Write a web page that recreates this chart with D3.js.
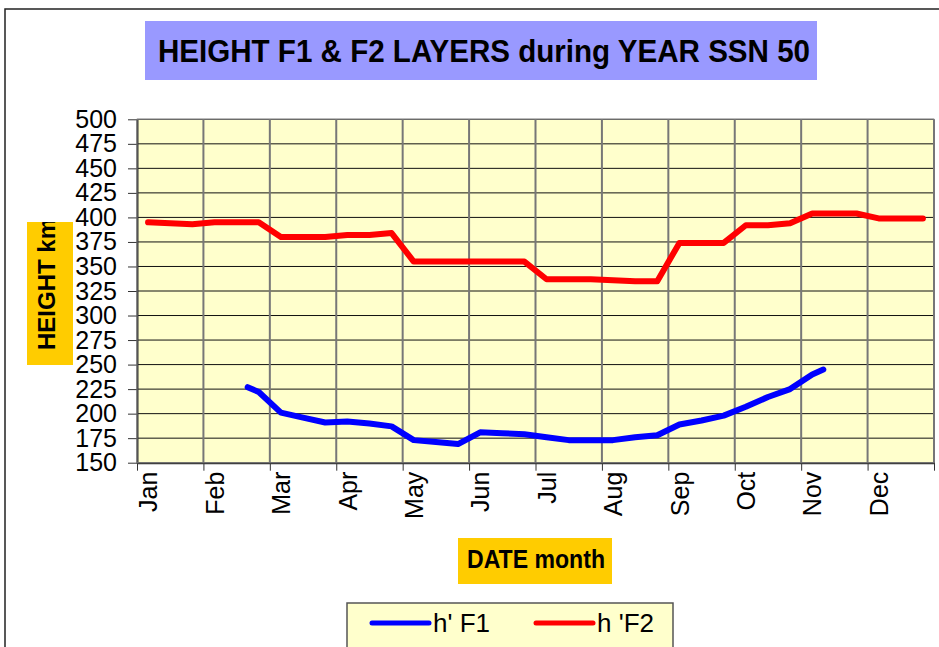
<!DOCTYPE html>
<html>
<head>
<meta charset="utf-8">
<script src="https://cdn.jsdelivr.net/npm/d3@7"></script>
<style>
  body { margin: 0; background: #fff; }
  svg { display: block; font-family: "Liberation Sans", Arial, sans-serif; }
</style>
</head>
<body>
<svg></svg>
<script>
// month labels, one per 3 dekads (10-day periods)
let months = ["Jan", "Feb", "Mar", "Apr", "May", "Jun", "Jul", "Aug", "Sep", "Oct", "Nov", "Dec"];
let yTicks = [150, 175, 200, 225, 250, 275, 300, 325, 350, 375, 400, 425, 450, 475, 500];

// h'F2, one value per dekad (1..36)
let f2Values = [395, 394, 393, 395, 395, 395, 380, 380, 380, 382, 382, 384,
                355, 355, 355, 355, 355, 355, 337, 337, 337, 336, 335, 335,
                374, 374, 374, 392, 392, 394, 404, 404, 404, 399, 399, 399];

// h'F1, dekad positions and values
let f1Dekads = [5.5, 6, 7, 8, 9, 10, 11, 12, 13, 14, 15, 16, 17, 18, 19, 20, 21,
                22, 23, 24, 25, 26, 27, 28, 29, 30, 31, 31.5];
let f1Values = [227, 222, 201, 196, 191, 192, 190, 187, 173, 171, 169, 181, 180, 179,
                176, 173, 173, 173, 176, 178, 189, 193, 198, 207, 217, 225, 240, 245];

let width = 939;
let height = 647;
let plotLeft = 137, plotRight = 934, plotTop = 119.3, plotBottom = 462.7;

let svg = d3.select("svg").attr("width", width).attr("height", height);

let xScale = d3.scaleLinear().domain([0.5, 36.5]).range([plotLeft, plotRight]);
let yScale = d3.scaleLinear().domain([150, 500]).range([plotBottom, plotTop]);

// outer chart border
svg.append("rect")
  .attr("x", 5).attr("y", 9).attr("width", 1000).attr("height", 1000)
  .attr("fill", "#fff").attr("stroke", "#222").attr("stroke-width", 1.5);

// title
svg.append("rect")
  .attr("x", 145).attr("y", 21).attr("width", 672).attr("height", 59)
  .attr("fill", "#9999ff");
svg.append("text")
  .attr("x", 484).attr("y", 62)
  .attr("text-anchor", "middle")
  .attr("font-size", 32).attr("font-weight", "bold")
  .attr("textLength", 652).attr("lengthAdjust", "spacingAndGlyphs")
  .text("HEIGHT F1 & F2 LAYERS during YEAR SSN 50");

// plot area
svg.append("rect")
  .attr("x", plotLeft).attr("y", plotTop)
  .attr("width", plotRight - plotLeft).attr("height", plotBottom - plotTop)
  .attr("fill", "#ffffcc");

// horizontal grid
svg.append("g")
  .selectAll("line")
  .data(yTicks.slice(1))
  .enter()
  .append("line")
  .attr("x1", plotLeft).attr("x2", plotRight)
  .attr("y1", (d) => yScale(d)).attr("y2", (d) => yScale(d))
  .attr("stroke", "#111").attr("stroke-width", 1);

// vertical grid at month boundaries
let monthEdges = d3.range(13).map((i) => 0.5 + i * 3);
svg.append("g")
  .selectAll("line")
  .data(monthEdges.slice(1))
  .enter()
  .append("line")
  .attr("x1", (d) => xScale(d)).attr("x2", (d) => xScale(d))
  .attr("y1", plotTop).attr("y2", plotBottom)
  .attr("stroke", "#777").attr("stroke-width", 2);

// y axis
let yAxis = d3.axisLeft(yScale).tickValues(yTicks).tickSize(9).tickPadding(11).tickSizeOuter(0);
let gy = svg.append("g")
  .attr("transform", "translate(" + plotLeft + ",0)")
  .call(yAxis);
gy.attr("font-family", null);
gy.selectAll("text").attr("font-size", 25).attr("fill", "#000");
gy.selectAll("line").attr("stroke", "#333");
gy.select(".domain").attr("stroke", "#333").attr("stroke-width", 2);

// x axis ticks
let xTickAxis = d3.axisBottom(xScale).tickValues(monthEdges).tickSize(8).tickFormat("").tickSizeOuter(0);
let gx = svg.append("g")
  .attr("transform", "translate(0," + plotBottom + ")")
  .call(xTickAxis);
gx.selectAll("line").attr("stroke", "#333");
gx.select(".domain").attr("stroke", "#333").attr("stroke-width", 2);

// x axis labels at the first dekad of each month
let xLabelAxis = d3.axisBottom(xScale)
  .tickValues(months.map((m, i) => 1 + i * 3))
  .tickFormat((d, i) => months[i])
  .tickSize(0);
let gl = svg.append("g")
  .attr("transform", "translate(0," + plotBottom + ")")
  .call(xLabelAxis);
gl.attr("font-family", null);
gl.select(".domain").remove();
gl.selectAll("text")
  .attr("font-size", 25).attr("fill", "#000")
  .attr("text-anchor", "end")
  .attr("transform", "rotate(-90)")
  .attr("x", -9).attr("y", 0).attr("dy", "0.35em");

// plot border
svg.append("rect")
  .attr("x", plotLeft).attr("y", plotTop)
  .attr("width", plotRight - plotLeft).attr("height", plotBottom - plotTop)
  .attr("fill", "none").attr("stroke", "#777").attr("stroke-width", 1);

// lines
let line = d3.line().x((d) => xScale(d[0])).y((d) => yScale(d[1]));

svg.append("path")
  .datum(f2Values.map((v, i) => [i + 1, v]))
  .attr("d", line)
  .attr("fill", "none").attr("stroke", "#ff0000").attr("stroke-width", 6)
  .attr("stroke-linejoin", "round").attr("stroke-linecap", "round");

svg.append("path")
  .datum(f1Values.map((v, i) => [f1Dekads[i], v]))
  .attr("d", line)
  .attr("fill", "none").attr("stroke", "#0000ff").attr("stroke-width", 6)
  .attr("stroke-linejoin", "round").attr("stroke-linecap", "round");

// y axis title (clipped by its box)
svg.append("clipPath").attr("id", "ytclip")
  .append("rect").attr("x", 27).attr("y", 222).attr("width", 46).attr("height", 143);
svg.append("rect")
  .attr("x", 27).attr("y", 222).attr("width", 46).attr("height", 143)
  .attr("fill", "#ffcc00");
svg.append("g").attr("clip-path", "url(#ytclip)")
  .append("text")
  .attr("transform", "translate(55,350) rotate(-90)")
  .attr("font-size", 24).attr("font-weight", "bold")
  .text("HEIGHT km");

// x axis title
svg.append("rect")
  .attr("x", 458).attr("y", 538).attr("width", 154).attr("height", 46)
  .attr("fill", "#ffcc00");
svg.append("text")
  .attr("x", 536).attr("y", 568)
  .attr("text-anchor", "middle")
  .attr("font-size", 26).attr("font-weight", "bold")
  .attr("textLength", 138).attr("lengthAdjust", "spacingAndGlyphs")
  .text("DATE month");

// legend
let legend = svg.append("g");
legend.append("rect")
  .attr("x", 347).attr("y", 603).attr("width", 326).attr("height", 60)
  .attr("fill", "#ffffcc").attr("stroke", "#555").attr("stroke-width", 1.5);
let items = [
  { name: "h' F1", color: "#0000ff", x: 372 },
  { name: "h 'F2", color: "#ff0000", x: 536 },
];
items.forEach((it) => {
  legend.append("line")
    .attr("x1", it.x).attr("x2", it.x + 57)
    .attr("y1", 623).attr("y2", 623)
    .attr("stroke", it.color).attr("stroke-width", 5).attr("stroke-linecap", "round");
  legend.append("text")
    .attr("x", it.x + 61).attr("y", 632)
    .attr("font-size", 26)
    .text(it.name);
});
</script>
</body>
</html>
